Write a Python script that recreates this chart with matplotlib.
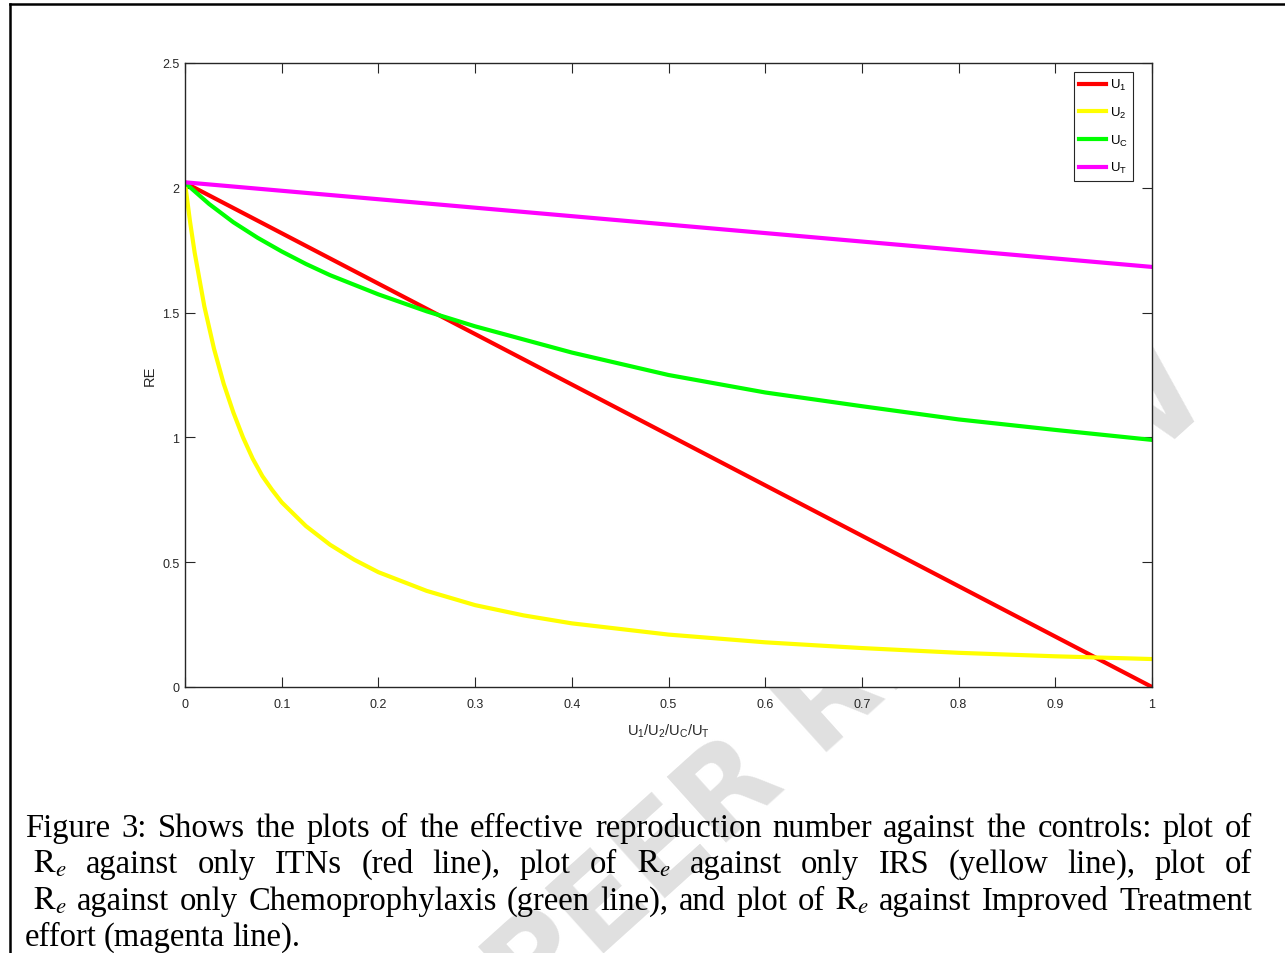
# -*- coding: utf-8 -*-
import matplotlib
matplotlib.use('Agg')
import matplotlib.pyplot as plt
from matplotlib.lines import Line2D

# values
u_line = [0.0, 1.0]
re_u1 = [2.02, 0.0]        # ITNs only
re_ut = [2.022, 1.683]     # improved treatment only

u_irs = [0.0, 0.005, 0.01, 0.02, 0.03, 0.04, 0.05, 0.06, 0.07, 0.08, 0.09, 0.1, 0.125,
         0.15, 0.175, 0.2, 0.25, 0.3, 0.35, 0.4, 0.5, 0.6, 0.7, 0.8, 0.9, 1.0]
re_u2 = [2.02, 1.87, 1.74, 1.525, 1.355, 1.215, 1.1, 1.0, 0.915, 0.845, 0.79, 0.74, 0.645,
         0.57, 0.51, 0.46, 0.385, 0.328, 0.287, 0.255, 0.21, 0.179, 0.156, 0.137, 0.123, 0.112]

u_chemo = [0.0, 0.025, 0.05, 0.075, 0.1, 0.125, 0.15, 0.2, 0.25, 0.3, 0.4, 0.5, 0.6, 0.7,
           0.8, 0.9, 1.0]
re_uc = [2.02, 1.935, 1.862, 1.8, 1.745, 1.695, 1.65, 1.573, 1.505, 1.445, 1.34, 1.25,
         1.18, 1.125, 1.072, 1.03, 0.99]

x_ticks = [0, 0.1, 0.2, 0.3, 0.4, 0.5, 0.6, 0.7, 0.8, 0.9, 1]
x_ticklabels = ['0', '0.1', '0.2', '0.3', '0.4', '0.5', '0.6', '0.7', '0.8', '0.9', '1']
y_ticks = [0, 0.5, 1, 1.5, 2, 2.5]
y_ticklabels = ['0', '0.5', '1', '1.5', '2', '2.5']

caption = [
    ['Figure', '3:', 'Shows', 'the', 'plots', 'of', 'the', 'effective', 'reproduction',
     'number', 'against', 'the', 'controls:', 'plot', 'of'],
    [r'$\mathrm{R}_{e}$', 'against', 'only', 'ITNs', '(red', 'line),', 'plot', 'of',
     r'$\mathrm{R}_{e}$', 'against', 'only', 'IRS', '(yellow', 'line),', 'plot', 'of'],
    [r'$\mathrm{R}_{e}$', 'against', 'only', 'Chemoprophylaxis', '(green', 'line),', 'and',
     'plot', 'of', r'$\mathrm{R}_{e}$', 'against', 'Improved', 'Treatment'],
    ['effort', '(magenta', 'line).'],
]

plt.rcParams['font.family'] = ['Liberation Sans', 'DejaVu Sans']
plt.rcParams['mathtext.fontset'] = 'stix'

W, H = 1285, 954
fig = plt.figure(figsize=(W / 100, H / 100), dpi=100)

# watermark behind everything
fig.text(530 / W, 1 - 1020 / H, 'PEER REVIEW', rotation=42, rotation_mode='anchor',
         fontsize=87, fontweight='bold', color='#e0e0e0', family='DejaVu Sans',
         ha='left', va='baseline', zorder=0)

# page frame (top and left edges only)
fig.add_artist(Line2D([10 / W, 10 / W], [0, 1 - 5 / H], color='black', lw=1.8))
fig.add_artist(Line2D([10 / W, 1], [1 - 5 / H, 1 - 5 / H], color='black', lw=1.8))

ax = fig.add_axes([185 / W, 1 - 688 / H, (1152 - 185) / W, (688 - 64) / H])
ax.set_facecolor('white')
ax.set_zorder(2)

ax.plot(u_line, re_u1, color='#ff0000', lw=3, label=r'$\mathregular{U_1}$')
ax.plot(u_irs, re_u2, color='#ffff00', lw=3, label=r'$\mathregular{U_2}$')
ax.plot(u_chemo, re_uc, color='#00ff00', lw=3, label=r'$\mathregular{U_C}$')
ax.plot(u_line, re_ut, color='#ff00ff', lw=3, label=r'$\mathregular{U_T}$')

ax.set_xlim(0, 1)
ax.set_ylim(0, 2.5)
ax.set_xticks(x_ticks)
ax.set_xticklabels(x_ticklabels)
ax.set_yticks(y_ticks)
ax.set_yticklabels(y_ticklabels)
ax.tick_params(direction='in', top=True, right=True, length=7, width=0.8,
               labelsize=9, colors='#262626')
ax.tick_params(axis='x', pad=8)
ax.tick_params(axis='y', pad=4)
for s in ax.spines.values():
    s.set_color('#262626')
    s.set_linewidth(1.0)

ax.set_xlabel(r'$\mathregular{U_1/U_2/U_C/U_T}$', fontsize=10.5, color='#262626', labelpad=8)
ax.set_ylabel('RE', fontsize=10.5, color='#262626', labelpad=4)

leg = ax.legend(loc='upper right', bbox_to_anchor=(0.9804, 0.9856), fontsize=9.5,
                frameon=True, fancybox=False, edgecolor='#262626', framealpha=1,
                handlelength=2.0, handletextpad=0.3, labelspacing=0.95,
                borderpad=0.4, borderaxespad=0)
leg.get_frame().set_linewidth(0.8)

# justified caption, placed word by word
renderer = fig.canvas.get_renderer()
baselines = [837, 873, 910, 946]
left_x = [25, 33, 33, 25]
right_x = 1252
for i, words in enumerate(caption):
    texts = [fig.text(0, 1 - baselines[i] / H, w, fontsize=23.5, family='Liberation Serif',
                      va='baseline', ha='left', zorder=3) for w in words]
    widths = [t.get_window_extent(renderer).width for t in texts]
    if i < len(caption) - 1:
        gap = (right_x - left_x[i] - sum(widths)) / (len(words) - 1)
    else:
        gap = 7
    x = left_x[i]
    for t, w in zip(texts, widths):
        t.set_x(x / W)
        x += w + gap

fig.savefig('out.png', dpi=100)
